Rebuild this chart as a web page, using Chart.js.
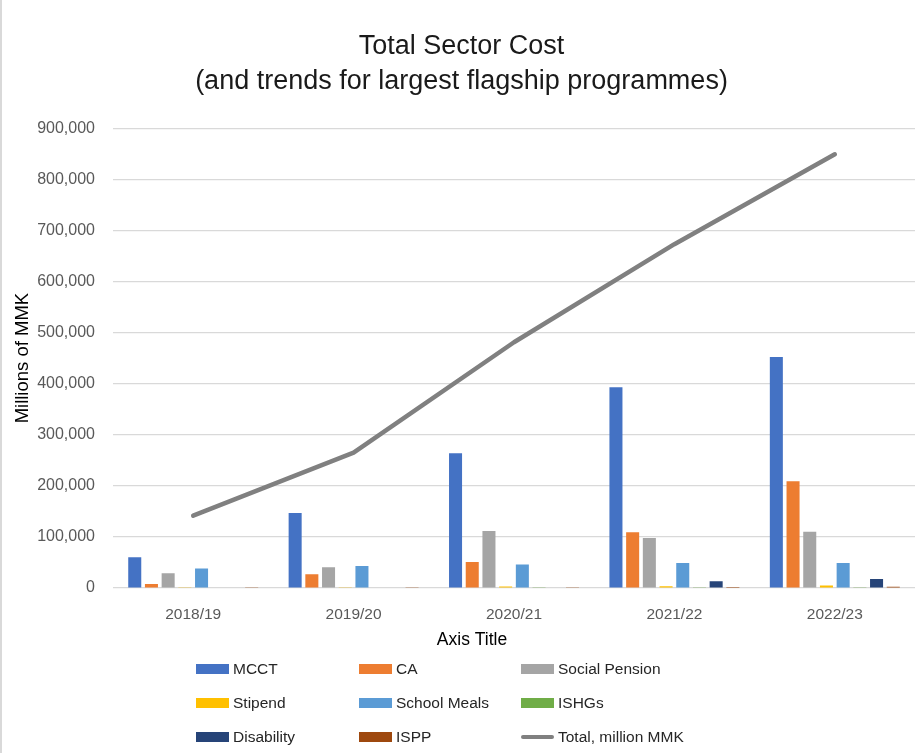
<!DOCTYPE html>
<html><head><meta charset="utf-8">
<script src="https://cdn.jsdelivr.net/npm/chart.js@4.4.0/dist/chart.umd.min.js"></script>
<style>
html,body{margin:0;padding:0;background:#fff;}
#wrap{position:relative;width:922px;height:753px;}
#frame{position:absolute;left:0;top:0;width:2px;height:753px;background:#d9d9d9;}
</style>
</head><body>
<div id="wrap"><canvas id="c" width="922" height="753"></canvas><div id="frame"></div></div>
<script>
const categories = ['2018/19', '2019/20', '2020/21', '2021/22', '2022/23'];
const mcct = [60000, 147000, 264000, 393000, 452000];
const ca = [8000, 27000, 51000, 109000, 209000];
const socialPension = [29000, 40500, 111500, 98000, 110000];
const stipend = [1500, 1500, 3000, 3500, 5000];
const schoolMeals = [38000, 43000, 46000, 49000, 49000];
const ishgs = [0, 0, 1500, 1500, 1500];
const disability = [0, 0, 0, 13000, 17500];
const ispp = [1500, 1500, 1500, 2000, 2500];
const total = [141500, 265000, 481000, 673000, 849000];
const yTicks = [0, 100000, 200000, 300000, 400000, 500000, 600000, 700000, 800000, 900000];
const xAxisTitle = 'Axis Title';

const FONT = '"Liberation Sans", Arial, sans-serif';

function bar(label, data, color) {
  return { type: 'bar', label, data, backgroundColor: color, order: 1,
           categoryPercentage: 0.833, barPercentage: 0.78 };
}

const gridLegend = {
  id: 'gridLegend',
  afterDraw(chart) {
    const ctx = chart.ctx;
    const cols = [196, 359, 521];
    const rows = [669, 703, 737];
    ctx.save();
    ctx.font = '17.5px ' + FONT;
    ctx.fillStyle = '#000';
    ctx.textAlign = 'center';
    ctx.textBaseline = 'middle';
    ctx.fillText(xAxisTitle, 472, 640);
    ctx.textAlign = 'left';
    ctx.font = '15.5px ' + FONT;
    chart.data.datasets.forEach((ds, i) => {
      const x = cols[i % 3], y = rows[Math.floor(i / 3)];
      if (ds.type === 'line') {
        ctx.strokeStyle = ds.borderColor; ctx.lineWidth = 4; ctx.lineCap = 'round';
        ctx.beginPath(); ctx.moveTo(x + 2, y); ctx.lineTo(x + 31, y); ctx.stroke();
      } else {
        ctx.fillStyle = ds.backgroundColor; ctx.fillRect(x, y - 5, 33, 10);
      }
      ctx.fillStyle = '#262626';
      ctx.fillText(ds.label, x + 37, y + 1);
    });
    ctx.restore();
  }
};

new Chart(document.getElementById('c'), {
  data: {
    labels: categories,
    datasets: [
      bar('MCCT', mcct, '#4472C4'),
      bar('CA', ca, '#ED7D31'),
      bar('Social Pension', socialPension, '#A5A5A5'),
      bar('Stipend', stipend, '#FFC000'),
      bar('School Meals', schoolMeals, '#5B9BD5'),
      bar('ISHGs', ishgs, '#70AD47'),
      bar('Disability', disability, '#264478'),
      bar('ISPP', ispp, '#9E480E'),
      { type: 'line', label: 'Total, million MMK', data: total, borderColor: '#808080',
        backgroundColor: '#808080', borderWidth: 4.5, pointRadius: 0, tension: 0,
        borderCapStyle: 'round', borderJoinStyle: 'round', order: 0 }
    ]
  },
  options: {
    responsive: false,
    animation: false,
    layout: { padding: { left: 8, right: 7, top: 0, bottom: 95 } },
    plugins: {
      legend: { display: false },
      tooltip: { enabled: false },
      title: {
        display: true,
        text: ['Total Sector Cost', '(and trends for largest flagship programmes)'],
        color: '#1a1a1a',
        font: { family: FONT, size: 27, weight: 'normal', lineHeight: 1.3 },
        padding: { top: 29, bottom: 29 }
      }
    },
    scales: {
      x: {
        grid: { display: false },
        border: { display: false },
        ticks: { color: '#595959', font: { family: FONT, size: 15.5 }, padding: 9 },
        afterFit: s => { s.height = 70; }
      },
      y: {
        min: 0, max: 900000,
        afterBuildTicks: s => { s.ticks = yTicks.map(v => ({ value: v })); },
        ticks: { color: '#595959', font: { family: FONT, size: 16 }, padding: 18,
                 callback: v => Number(v).toLocaleString('en-US') },
        grid: { color: '#d9d9d9', lineWidth: 1.2, drawTicks: false },
        border: { display: false },
        title: { display: true, text: 'Millions of MMK', color: '#000',
                 font: { family: FONT, size: 18.5 } },
        afterFit: s => { s.width = 105; }
      }
    }
  },
  plugins: [gridLegend]
});
</script>
</body></html>
